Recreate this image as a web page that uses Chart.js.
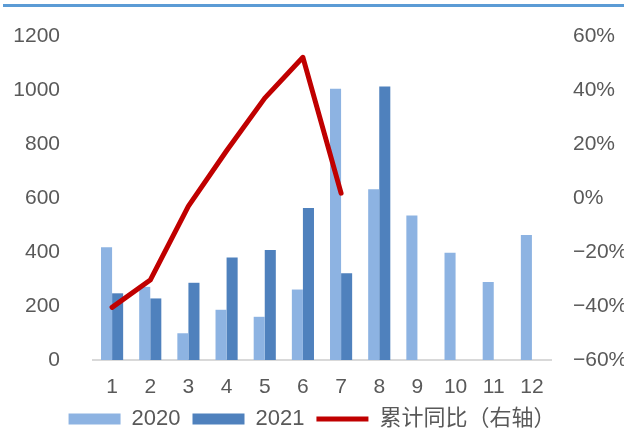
<!DOCTYPE html>
<html>
<head>
<meta charset="utf-8">
<script src="https://cdn.jsdelivr.net/npm/chart.js@4.4.1/dist/chart.umd.min.js"></script>
<style>
  html, body { margin: 0; padding: 0; background: #fff; }
  #wrap { width: 624px; height: 440px; position: relative; }
</style>
</head>
<body>
<div id="wrap"><canvas id="salesChart" width="624" height="440"></canvas></div>
<script>
const months = ['1', '2', '3', '4', '5', '6', '7', '8', '9', '10', '11', '12'];
const sales2020 = [418, 271, 99, 186, 160, 261, 1005, 632, 535, 397, 289, 463];
const sales2021 = [247, 228, 286, 380, 407, 563, 321, 1013, null, null, null, null];
const cumYoY = [-0.405, -0.304, -0.03, 0.175, 0.37, 0.521, 0.018, null, null, null, null, null];

const tickFont = { family: "'Liberation Sans Narrow', 'Liberation Sans', Arial, sans-serif", size: 21 };
const grey = '#595959';

// thin blue rule along the top edge
const topRule = {
    id: 'topRule',
    beforeDraw(chart) {
        const ctx = chart.ctx;
        ctx.save();
        ctx.fillStyle = '#5B9BD5';
        ctx.fillRect(3, 4, 621, 3);
        ctx.restore();
    }
};

// fixed axis widths, no extra top/bottom room from the tick padding
const fixWidth = (w) => (scale) => {
    scale.width = w;
    scale.paddingTop = 0;
    scale.paddingBottom = 0;
};

const ctx = document.getElementById('salesChart').getContext('2d');
new Chart(ctx, {
    type: 'bar',
    data: {
        labels: months,
        datasets: [{
            label: '2020',
            data: sales2020,
            backgroundColor: '#8DB3E2',
            pointStyle: 'rect',
            order: 1
        }, {
            label: '2021',
            data: sales2021,
            backgroundColor: '#4F81BD',
            pointStyle: 'rect',
            order: 1
        }, {
            type: 'line',
            label: '累计同比（右轴）',
            data: cumYoY,
            yAxisID: 'yRight',
            borderColor: '#C00000',
            backgroundColor: '#C00000',
            borderWidth: 5,
            borderCapStyle: 'round',
            borderJoinStyle: 'round',
            pointRadius: 0,
            pointStyle: 'line',
            tension: 0,
            order: 0
        }]
    },
    options: {
        responsive: false,
        animation: false,
        layout: { padding: { top: 36, left: 0, right: 0, bottom: 0 } },
        datasets: {
            bar: { categoryPercentage: 0.58, barPercentage: 1.0 }
        },
        scales: {
            x: {
                grid: { display: false, drawTicks: false },
                border: { display: true, color: '#D9D9D9', width: 2 },
                ticks: { color: grey, font: tickFont, padding: 15 },
                afterFit: (scale) => { scale.height = 36; }
            },
            y: {
                position: 'left',
                min: 0,
                max: 1200,
                ticks: { stepSize: 200, color: grey, font: tickFont, padding: 33, callback: (v) => String(v) },
                grid: { display: false, drawTicks: false },
                border: { display: false },
                afterFit: fixWidth(93)
            },
            yRight: {
                position: 'right',
                min: -0.6,
                max: 0.6,
                ticks: {
                    stepSize: 0.2,
                    color: grey,
                    font: tickFont,
                    padding: 22,
                    callback: (v) => {
                        const p = Math.round(v * 100);
                        return (p < 0 ? '\u2212' + Math.abs(p) : p) + '%';
                    }
                },
                grid: { display: false, drawTicks: false },
                border: { display: false },
                afterFit: fixWidth(73)
            }
        },
        plugins: {
            legend: {
                position: 'bottom',
                align: 'center',
                labels: {
                    usePointStyle: true,
                    pointStyleWidth: 52,
                    boxHeight: 11,
                    padding: 12,
                    color: grey,
                    font: { family: "'Liberation Sans Narrow', 'Liberation Sans', 'Noto Sans CJK SC', sans-serif", size: 22 },
                    sort: (a, b) => a.datasetIndex - b.datasetIndex
                }
            },
            tooltip: { enabled: false }
        }
    },
    plugins: [topRule]
});
</script>
</body>
</html>
